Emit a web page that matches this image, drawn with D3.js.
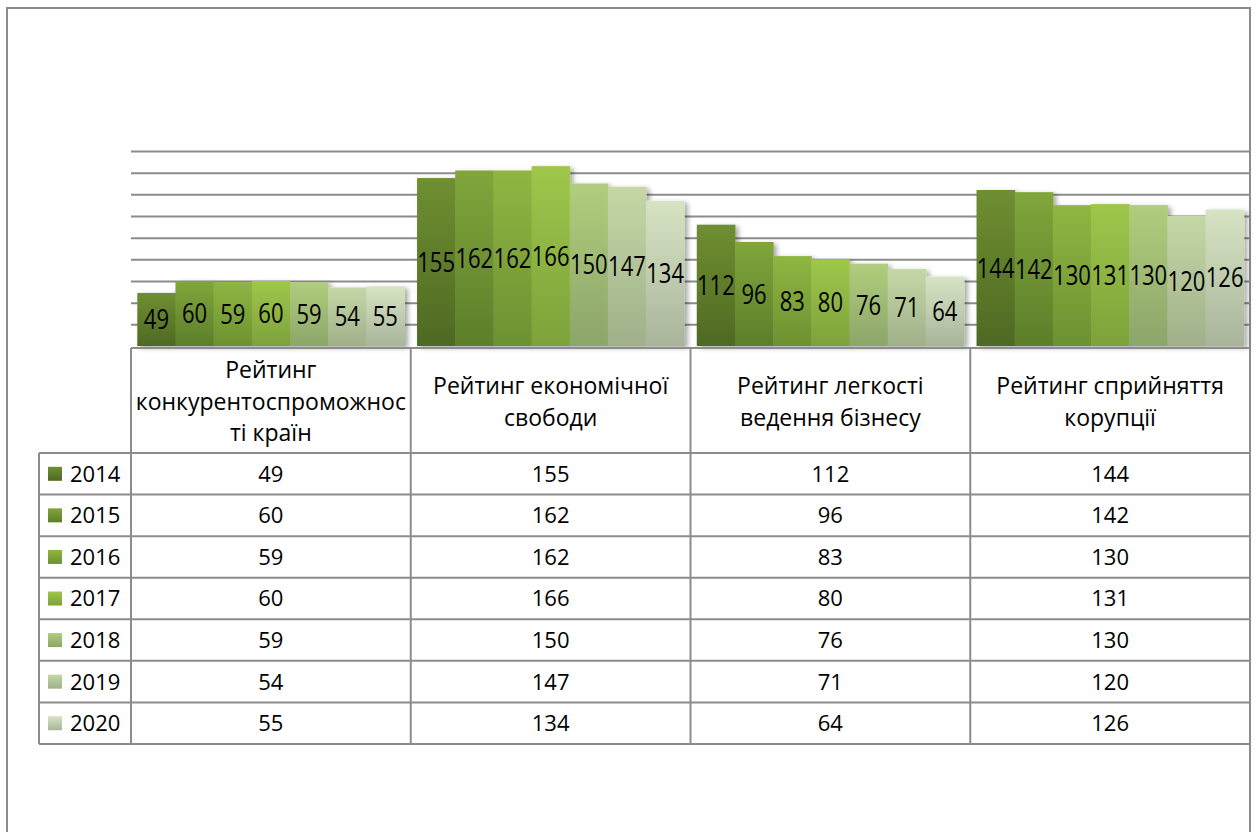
<!DOCTYPE html>
<html>
<head>
<meta charset="utf-8">
<script src="https://cdn.jsdelivr.net/npm/d3@7"></script>
<style>
  body { margin: 0; background: #fff; }
  text { font-family: "Open Sans", "Noto Sans", sans-serif; fill: #000; }
</style>
</head>
<body>
<div id="GraphHolder"></div>
<script>
// chart data
var categories = ["Рейтинг конкурентоспроможності країн", "Рейтинг економічної свободи",
                  "Рейтинг легкості ведення бізнесу", "Рейтинг сприйняття корупції"];
// header text wrapped the way the table cell wraps it
var categoryLines = [["Рейтинг", "конкурентоспроможнос", "ті країн"],
                     ["Рейтинг економічної", "свободи"],
                     ["Рейтинг легкості", "ведення бізнесу"],
                     ["Рейтинг сприйняття", "корупції"]];
var years = ["2014", "2015", "2016", "2017", "2018", "2019", "2020"];
var values2014 = [49, 155, 112, 144];
var values2015 = [60, 162, 96, 142];
var values2016 = [59, 162, 83, 130];
var values2017 = [60, 166, 80, 131];
var values2018 = [59, 150, 76, 130];
var values2019 = [54, 147, 71, 120];
var values2020 = [55, 134, 64, 126];
var yTicks = [20, 40, 60, 80, 100, 120, 140, 160, 180];

var series = [values2014, values2015, values2016, values2017, values2018, values2019, values2020];

// top / bottom colour of each year's gradient
var palette = [["#6f8f31", "#4e6923"], ["#80a63b", "#5d7e2a"], ["#8fb642", "#6c9131"],
               ["#9fc74b", "#7ca23a"], ["#b0ce7c", "#8ca56a"], ["#c4d8a6", "#a0b08a"],
               ["#d6e4c3", "#a9b59b"]];

var W = 1256, H = 832;
var plot = {left: 131, right: 1250, top: 151, bottom: 346};
var table = {legendLeft: 39, headerBottom: 453, bottom: 744};
var lineColor = "#8c8c8c";

var svg = d3.select("#GraphHolder").append("svg")
    .attr("width", W)
    .attr("height", H);

var defs = svg.append("defs");
palette.forEach(function(p, i) {
    var g = defs.append("linearGradient")
        .attr("id", "grad" + i)
        .attr("x1", 0).attr("y1", 0).attr("x2", 0).attr("y2", 1);
    g.append("stop").attr("offset", "0%").attr("stop-color", p[0]);
    g.append("stop").attr("offset", "100%").attr("stop-color", p[1]);
});
var shadow = defs.append("filter").attr("id", "shadow")
    .attr("x", "-10%").attr("y", "-10%").attr("width", "130%").attr("height", "130%");
shadow.append("feDropShadow")
    .attr("dx", 3).attr("dy", 2).attr("stdDeviation", 2.5)
    .attr("flood-color", "#000").attr("flood-opacity", 0.35);

// outer frame (runs off the bottom of the picture)
svg.append("rect")
    .attr("x", 7).attr("y", 8)
    .attr("width", 1243).attr("height", 900)
    .attr("fill", "none")
    .attr("stroke", lineColor)
    .attr("stroke-width", 2);

// scales
var x0 = d3.scaleBand()
    .domain(categories)
    .range([plot.left, plot.right])
    .paddingInner(0.045)
    .paddingOuter(0.0225);
var x1 = d3.scaleBand()
    .domain(years)
    .range([0, x0.bandwidth()]);
var y = d3.scaleLinear()
    .domain([0, 180])
    .range([plot.bottom, plot.top]);
var col = d3.scaleBand()
    .domain(categories)
    .range([plot.left, plot.right]);
var row = d3.scaleBand()
    .domain(years)
    .range([table.headerBottom, table.bottom]);

// horizontal grid lines
svg.append("g")
    .attr("class", "grid")
    .attr("transform", "translate(" + plot.left + ",0)")
    .call(d3.axisLeft(y)
        .tickValues(yTicks)
        .tickSize(-(plot.right - plot.left))
        .tickFormat(""))
    .call(function(g) {
        g.select(".domain").remove();
        g.selectAll("line").attr("stroke", lineColor).attr("stroke-width", 2);
    });

// bars
var groups = svg.selectAll(".cat")
    .data(categories)
    .enter().append("g")
    .attr("class", "cat")
    .attr("transform", function(d) { return "translate(" + x0(d) + ",0)"; })
    .attr("filter", "url(#shadow)");

groups.selectAll(".bar")
    .data(function(d, ci) {
        return years.map(function(yr, si) { return {year: yr, si: si, value: series[si][ci]}; });
    })
    .enter().append("rect")
    .attr("class", "bar")
    .attr("x", function(d) { return x1(d.year); })
    .attr("width", x1.bandwidth() + 0.5)
    .attr("y", function(d) { return y(d.value); })
    .attr("height", function(d) { return y(0) - y(d.value); })
    .attr("fill", function(d) { return "url(#grad" + d.si + ")"; });

// value labels in the middle of each bar
var labels = svg.append("g").attr("class", "labels");
categories.forEach(function(c, ci) {
    years.forEach(function(yr, si) {
        var v = series[si][ci];
        var cx = x0(c) + x1(yr) + x1.bandwidth() / 2;
        var cy = (y(v) + y(0)) / 2;
        labels.append("text")
            .attr("transform", "translate(" + cx + "," + cy + ") scale(1,1.22)")
            .attr("text-anchor", "middle")
            .attr("dy", "0.36em")
            .style("font-size", "22px")
            .text(v);
    });
});

// data table under the chart
var grid = svg.append("g").attr("class", "table")
    .attr("stroke", lineColor)
    .attr("stroke-width", 2);
grid.append("line")
    .attr("x1", plot.left).attr("x2", plot.right)
    .attr("y1", plot.bottom + 2).attr("y2", plot.bottom + 2);
years.forEach(function(yr) {
    grid.append("line")
        .attr("x1", table.legendLeft).attr("x2", plot.right)
        .attr("y1", row(yr)).attr("y2", row(yr));
});
grid.append("line")
    .attr("x1", table.legendLeft).attr("x2", plot.right)
    .attr("y1", table.bottom).attr("y2", table.bottom);
grid.append("line")
    .attr("x1", table.legendLeft).attr("x2", table.legendLeft)
    .attr("y1", table.headerBottom).attr("y2", table.bottom);
categories.forEach(function(c) {
    grid.append("line")
        .attr("x1", col(c)).attr("x2", col(c))
        .attr("y1", plot.bottom + 2).attr("y2", table.bottom);
});

// header cells
var headerMid = (plot.bottom + table.headerBottom) / 2 + 2;
categories.forEach(function(c, ci) {
    var lines = categoryLines[ci];
    var t = svg.append("text")
        .attr("text-anchor", "middle")
        .style("font-size", "23px");
    lines.forEach(function(l, li) {
        t.append("tspan")
            .attr("x", col(c) + col.bandwidth() / 2)
            .attr("y", headerMid + (li - (lines.length - 1) / 2) * 31.5)
            .attr("dy", "0.36em")
            .text(l);
    });
});

// value cells and legend keys
years.forEach(function(yr, si) {
    var cy = row(yr) + row.bandwidth() / 2;
    svg.append("rect")
        .attr("x", 48).attr("y", cy - 7)
        .attr("width", 14).attr("height", 14)
        .attr("fill", "url(#grad" + si + ")");
    svg.append("text")
        .attr("x", 70).attr("y", cy)
        .attr("dy", "0.36em")
        .style("font-size", "22px")
        .text(yr);
    categories.forEach(function(c, ci) {
        svg.append("text")
            .attr("x", col(c) + col.bandwidth() / 2)
            .attr("y", cy)
            .attr("dy", "0.36em")
            .attr("text-anchor", "middle")
            .style("font-size", "22px")
            .text(series[si][ci]);
    });
});
</script>
</body>
</html>
